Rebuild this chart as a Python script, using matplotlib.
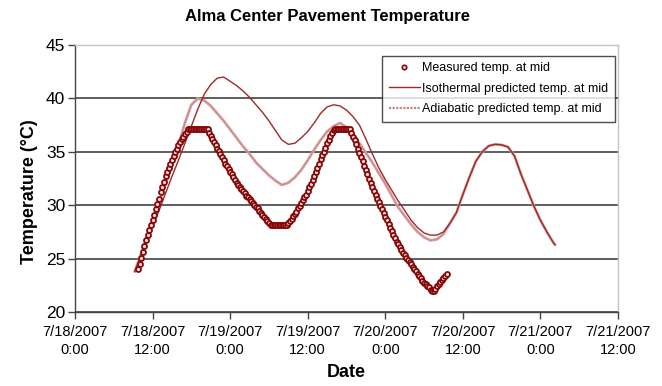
import numpy as np
import matplotlib
matplotlib.use('Agg')
import matplotlib.pyplot as plt
from matplotlib.lines import Line2D

plt.rcParams['font.family'] = ['Liberation Sans', 'DejaVu Sans']

# hours after 7/18/2007 0:00
meas_start = 9.75
meas_step = 0.25
measured = [
    24.0, 24.5, 25.1, 25.6, 26.2, 26.7, 27.2, 27.7, 28.1, 28.6, 29.1, 29.6,
    30.1, 30.6, 31.2, 31.7, 32.2, 32.7, 33.1, 33.5, 33.9, 34.2, 34.6, 35.0,
    35.3, 35.6, 35.9, 36.2, 36.4, 36.7, 36.9, 37.1,
    37.1, 37.1, 37.1, 37.1, 37.1, 37.1, 37.1, 37.1, 37.1, 37.1, 37.1, 37.1,
    36.8, 36.5, 36.2, 35.9, 35.6, 35.3, 35.1, 34.8, 34.5, 34.2, 33.9, 33.7,
    33.4, 33.1, 32.9, 32.6, 32.4, 32.1, 31.9, 31.7, 31.5, 31.3, 31.1, 30.9,
    30.8, 30.6, 30.4, 30.2, 30.0, 29.8, 29.7, 29.5, 29.3, 29.1, 28.9, 28.7,
    28.5, 28.3, 28.1,
    28.1, 28.1, 28.1, 28.1, 28.1, 28.1, 28.1, 28.1, 28.1, 28.1,
    28.3, 28.5, 28.7, 29.0, 29.2, 29.4, 29.7, 29.9, 30.2, 30.5, 30.8, 31.0,
    31.3, 31.7, 32.0, 32.4, 32.7, 33.1, 33.5, 33.9, 34.3, 34.7, 35.0, 35.4,
    35.8, 36.1, 36.5, 36.8, 37.0,
    37.1, 37.1, 37.1, 37.1, 37.1, 37.1, 37.1, 37.1, 37.1, 37.1,
    36.8, 36.4, 36.1, 35.7, 35.3, 34.9, 34.5, 34.1, 33.7, 33.3, 32.9, 32.5,
    32.1, 31.7, 31.3, 31.0, 30.6, 30.3, 29.9, 29.6, 29.3, 28.9, 28.6, 28.2,
    27.9, 27.6, 27.2, 26.9, 26.6, 26.4, 26.1, 25.8, 25.5, 25.3, 25.1, 24.9,
    24.7, 24.5, 24.2, 24.0, 23.8, 23.6, 23.4, 23.2, 22.9, 22.7, 22.6, 22.4,
    22.3, 22.1, 22.0, 22.0, 22.2, 22.4, 22.6, 22.8, 23.0, 23.2, 23.4, 23.6,
]

model_hours = [9.25] + list(range(10, 75)) + [74.25]
isothermal = [
    23.8,
    25.0, 26.5, 28.0, 29.5, 31.1, 32.7, 34.2, 35.8, 37.4, 39.0,
    40.4, 41.3, 41.9, 42.0, 41.6, 41.2, 40.7, 40.1, 39.4, 38.7,
    37.9, 37.0, 36.1, 35.7, 35.8, 36.3, 36.9, 37.7, 38.6, 39.2,
    39.4, 39.3, 38.9, 38.3, 37.5, 36.2, 34.8, 33.5, 32.4, 31.4,
    30.4, 29.5, 28.6, 27.9, 27.4, 27.2, 27.2, 27.5, 28.3, 29.3,
    31.0, 32.6, 34.1, 35.0, 35.55, 35.7, 35.65, 35.45, 34.6, 32.9,
    31.4, 29.9, 28.6, 27.5, 26.5,
    26.3,
]
adiabatic = [
    23.8,
    25.1, 26.8, 28.5, 30.2, 32.0, 33.8, 35.6, 37.7, 39.4, 40.0,
    39.8, 39.3, 38.6, 37.9, 37.1, 36.3, 35.5, 34.8, 34.0, 33.4,
    32.8, 32.3, 31.9, 32.1, 32.6, 33.3, 34.2, 35.2, 36.1, 36.9,
    37.4, 37.7, 37.3, 36.6, 35.8, 34.9, 34.0, 33.0, 32.0, 30.9,
    29.8, 29.0, 28.2, 27.5, 27.0, 26.7, 26.8, 27.3, 28.3, 29.3,
    31.0, 32.6, 34.1, 35.0, 35.55, 35.7, 35.65, 35.45, 34.6, 32.9,
    31.4, 29.9, 28.6, 27.5, 26.5,
    26.3,
]

tick_hours = [0, 12, 24, 36, 48, 60, 72, 84]
tick_labels = ['7/18/2007\n0:00', '7/18/2007\n12:00', '7/19/2007\n0:00',
               '7/19/2007\n12:00', '7/20/2007\n0:00', '7/20/2007\n12:00',
               '7/21/2007\n0:00', '7/21/2007\n12:00']

meas_hours = meas_start + meas_step * np.arange(len(measured))

fig = plt.figure(figsize=(6.62, 3.86), dpi=100)
ax = fig.add_axes([0.1133, 0.1917, 0.8202, 0.6917])

ax.plot(model_hours, adiabatic, color='#d6a0a0', lw=2.0, zorder=3)
ax.plot(model_hours, adiabatic, color='#bb7070', lw=0.6, ls=(0, (1, 1)), zorder=3)
ax.plot(model_hours, isothermal, color='#a02828', lw=1.0, zorder=4)
ax.plot(meas_hours, measured, ls='none', marker='o', ms=3.6, mew=1.3,
        mec='#860808', mfc='#f3dede', zorder=5)

ax.set_xlim(0, 84)
ax.set_ylim(20, 45)
ax.set_yticks([20, 25, 30, 35, 40, 45])
ax.set_xticks(tick_hours)
ax.set_xticklabels(tick_labels, fontsize=10.5, linespacing=1.45)
ax.tick_params(axis='y', labelsize=12.5, length=5, width=1, color='#444444', pad=2)
ax.tick_params(axis='x', length=5, width=1, color='#444444', pad=4)

ax.grid(axis='y', color='#333333', lw=1.1)
ax.set_axisbelow(True)
for side in ['left', 'bottom']:
    ax.spines[side].set_color('#444444')
    ax.spines[side].set_linewidth(1.0)
for side in ['top', 'right']:
    ax.spines[side].set_color('#c4c4c4')
    ax.spines[side].set_linewidth(1.0)

ax.set_xlabel('Date', fontsize=13, fontweight='bold', labelpad=5)
ax.set_ylabel('Temperature (\u00b0C)', fontsize=13, fontweight='bold')
ax.yaxis.set_label_coords(-0.068, 0.45)
fig.text(0.494, 0.958, 'Alma Center Pavement Temperature', ha='center', va='center',
         fontsize=12, fontweight='bold')

handles = [
    Line2D([], [], ls='none', marker='o', ms=3.2, mew=1.2, mec='#860808', mfc='#f3dede'),
    Line2D([], [], color='#a02828', lw=1.0),
    Line2D([], [], color='#c98585', lw=1.6, ls=(0, (1, 0.6))),
]
labels = ['Measured temp. at mid', 'Isothermal predicted temp. at mid',
          'Adiabatic predicted temp. at mid']
leg = ax.legend(handles, labels, loc='upper left', bbox_to_anchor=(0.566, 0.96),
                fontsize=9, frameon=True, fancybox=False, handlelength=2.5,
                handletextpad=0.2, labelspacing=0.7, borderpad=0.5,
                borderaxespad=0)
leg.get_frame().set_edgecolor('#222222')
leg.get_frame().set_linewidth(1.0)
leg.set_zorder(10)

fig.savefig('out.png', dpi=100)
